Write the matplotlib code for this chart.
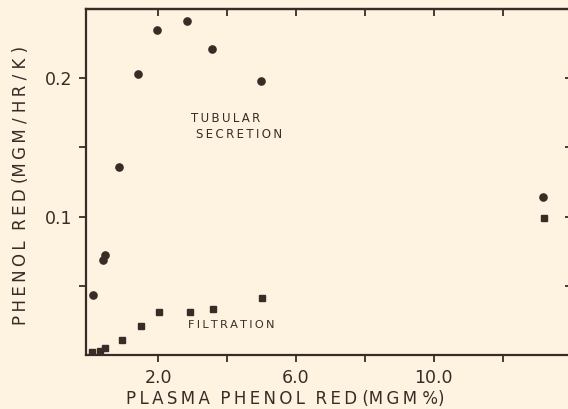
import matplotlib.pyplot as plt

# tubular secretion (circles)
sec_x = [0.11, 0.40, 0.46, 0.88, 1.43, 1.96, 2.85, 3.58, 4.99, 13.17]
sec_y = [0.043, 0.069, 0.072, 0.136, 0.203, 0.235, 0.241, 0.221, 0.198, 0.114]

# filtration (squares)
fil_x = [0.08, 0.32, 0.46, 0.95, 1.50, 2.04, 2.93, 3.60, 5.02, 13.20]
fil_y = [0.002, 0.003, 0.005, 0.011, 0.021, 0.031, 0.031, 0.033, 0.041, 0.099]

xticks = [2, 4, 6, 8, 10, 12]
xticklabels = ['2.0', '', '6.0', '', '10.0', '']
yticks = [0.05, 0.1, 0.15, 0.2]
yticklabels = ['', '0.1', '', '0.2']

ink = '#3b2b26'
bg = '#fef3e1'


def spaced(s):
    # wide lettering look: thin space between letters
    return '\u2009'.join(s)


fig = plt.figure(figsize=(5.68, 4.09), dpi=100, facecolor=bg)
ax = fig.add_axes([0.1514, 0.132, 0.855, 0.846], facecolor=bg)

ax.plot(sec_x, sec_y, 'o', color=ink, markersize=5.2, linestyle='none')
ax.plot(fil_x, fil_y, 's', color=ink, markersize=4.8, linestyle='none')

ax.set_xlim(-0.09, 14.0)
ax.set_ylim(0, 0.25)

ax.set_xticks(xticks)
ax.set_xticklabels(xticklabels)
ax.set_yticks(yticks)
ax.set_yticklabels(yticklabels)

for s in ax.spines.values():
    s.set_color(ink)
    s.set_linewidth(1.6)

ax.tick_params(axis='both', colors=ink, labelcolor=ink, width=1.3, length=5,
               direction='out', labelsize=12.5)
ax.tick_params(axis='x', pad=5)
ax.tick_params(axis='y', pad=5)

# inward ticks on the top and right frame
top = ax.secondary_xaxis('top')
top.set_xticks(xticks)
top.tick_params(direction='in', length=5, width=1.3, colors=ink, labeltop=False)
right = ax.secondary_yaxis('right')
right.set_yticks(yticks)
right.tick_params(direction='in', length=5, width=1.3, colors=ink, labelright=False)
for s in list(top.spines.values()) + list(right.spines.values()):
    s.set_color(ink)
    s.set_linewidth(1.6)

ax.set_xlabel(spaced('PLASMA') + '  ' + spaced('PHENOL') + '  ' + spaced('RED') + ' ('
              + spaced('MGM') + ' %)', fontsize=12, color=ink)
ax.xaxis.set_label_coords(0.41, -0.1)
ax.set_ylabel(spaced('PHENOL') + '  ' + spaced('RED') + ' (' + spaced('MGM') + ' / '
              + spaced('HR') + ' / K )', fontsize=12, color=ink)
ax.yaxis.set_label_coords(-0.115, 0.49)

ax.text(3.97, 0.171, spaced('TUBULAR'), fontsize=8.5, color=ink, ha='center', va='center')
ax.text(4.35, 0.159, spaced('SECRETION'), fontsize=8.5, color=ink, ha='center', va='center')
ax.text(4.12, 0.022, spaced('FILTRATION'), fontsize=8.2, color=ink, ha='center', va='center')

plt.savefig('out.png', dpi=100, facecolor=bg)
plt.close()
